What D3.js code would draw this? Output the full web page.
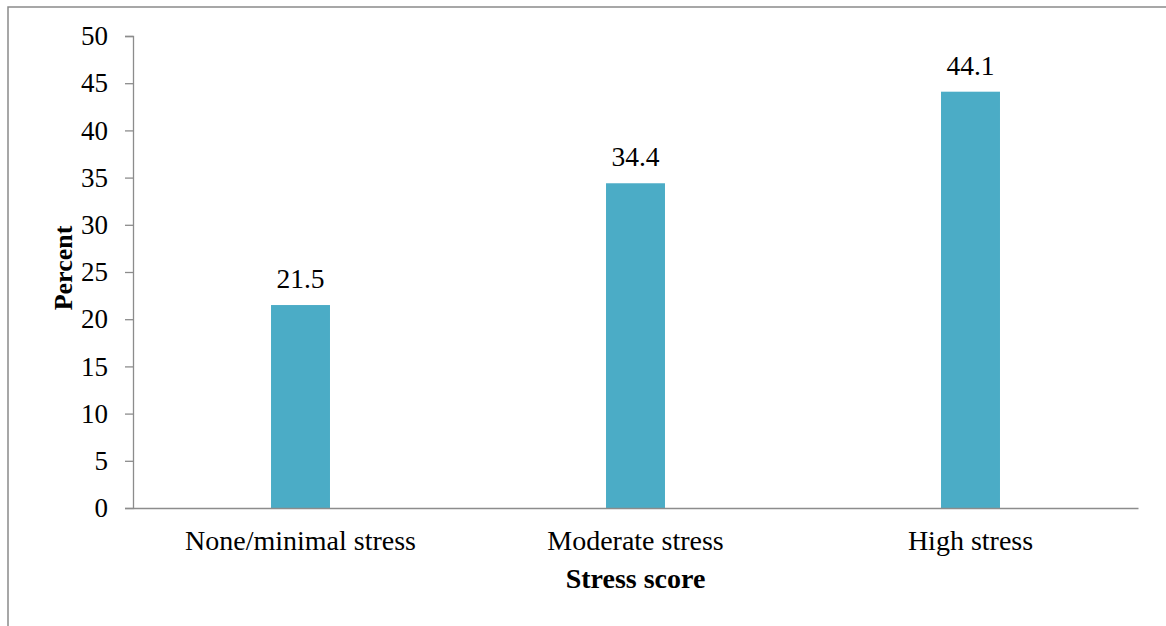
<!DOCTYPE html>
<html>
<head>
<meta charset="utf-8">
<script src="https://cdn.jsdelivr.net/npm/d3@7"></script>
<style>
  html, body { margin: 0; padding: 0; background: #fff; }
  svg { display: block; }
</style>
</head>
<body>
<svg id="chart" width="1166" height="626"></svg>
<script>
// Stress score distribution (percent of respondents)
const categories = ["None/minimal stress", "Moderate stress", "High stress"];
const percents = [21.5, 34.4, 44.1];
const yTicks = [0, 5, 10, 15, 20, 25, 30, 35, 40, 45, 50];

const W = 1166, H = 626;
const margin = { left: 133, right: 28 };
const FONT = '"Liberation Serif", "Times New Roman", Tinos, serif';
const svg = d3.select("#chart");
const axisColor = "#8c8c8c";
const barColor = "#4bacc6";

// outer frame
svg.append("rect")
  .attr("x", 8).attr("y", 7)
  .attr("width", W + 20).attr("height", H + 20)
  .attr("fill", "none")
  .attr("stroke", "#8a8a8a")
  .attr("stroke-width", 1.5);

const x = d3.scaleBand()
  .domain(categories)
  .range([margin.left, W - margin.right])
  .paddingInner(0.824)
  .paddingOuter(0.412);

const y = d3.scaleLinear()
  .domain([0, 50])
  .range([508, 36]);

// y axis
const yAxis = svg.append("g")
  .attr("transform", `translate(${margin.left},0)`)
  .call(d3.axisLeft(y).tickValues(yTicks).tickSize(8).tickPadding(17).tickFormat(d3.format("d")));
yAxis.select(".domain").attr("stroke", axisColor).attr("stroke-width", 1.3);
yAxis.selectAll(".tick line").attr("stroke", axisColor).attr("stroke-width", 1.3);
yAxis.selectAll(".tick text")
  .style("font-family", FONT)
  .style("font-size", "27px")
  .attr("fill", "#000");

// bars
svg.append("g").selectAll("rect")
  .data(percents)
  .join("rect")
  .attr("x", (d, i) => x(categories[i]))
  .attr("y", d => y(d))
  .attr("width", x.bandwidth())
  .attr("height", d => y(0) - y(d))
  .attr("fill", barColor);

// value labels
svg.append("g").selectAll("text")
  .data(percents)
  .join("text")
  .attr("x", (d, i) => x(categories[i]) + x.bandwidth() / 2)
  .attr("y", d => y(d) - 17)
  .attr("text-anchor", "middle")
  .style("font-family", FONT)
  .style("font-size", "27.5px")
  .text(d => d.toFixed(1));

// x axis
const xAxis = svg.append("g")
  .attr("transform", `translate(0,${y(0)})`)
  .call(d3.axisBottom(x).tickSize(0).tickPadding(0).tickSizeOuter(0));
xAxis.select(".domain").attr("stroke", axisColor).attr("stroke-width", 1.3);
xAxis.selectAll(".tick text")
  .style("font-family", FONT)
  .style("font-size", "28px")
  .attr("fill", "#000")
  .attr("dy", null)
  .attr("y", 42)
  .attr("x", 0);

// axis titles
svg.append("text")
  .attr("x", (margin.left + W - margin.right) / 2)
  .attr("y", 588)
  .attr("text-anchor", "middle")
  .style("font-family", FONT)
  .style("font-size", "28px")
  .style("font-weight", "bold")
  .text("Stress score");

svg.append("text")
  .attr("transform", `translate(72,268) rotate(-90)`)
  .attr("text-anchor", "middle")
  .style("font-family", FONT)
  .style("font-size", "26px")
  .style("font-weight", "bold")
  .text("Percent");
</script>
</body>
</html>
